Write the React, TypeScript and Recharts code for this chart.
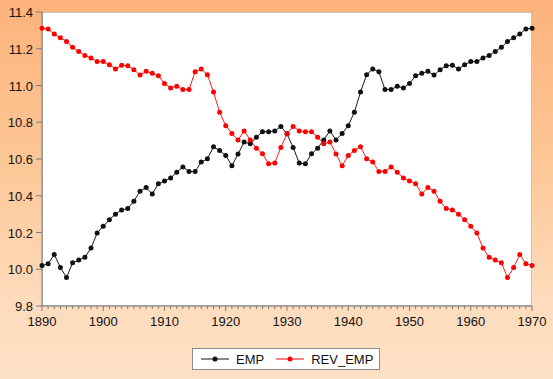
import { LineChart, Line, XAxis, YAxis, ReferenceArea } from 'recharts';

const years: number[] = [
  1890, 1891, 1892, 1893, 1894, 1895, 1896, 1897, 1898, 1899,
  1900, 1901, 1902, 1903, 1904, 1905, 1906, 1907, 1908, 1909,
  1910, 1911, 1912, 1913, 1914, 1915, 1916, 1917, 1918, 1919,
  1920, 1921, 1922, 1923, 1924, 1925, 1926, 1927, 1928, 1929,
  1930, 1931, 1932, 1933, 1934, 1935, 1936, 1937, 1938, 1939,
  1940, 1941, 1942, 1943, 1944, 1945, 1946, 1947, 1948, 1949,
  1950, 1951, 1952, 1953, 1954, 1955, 1956, 1957, 1958, 1959,
  1960, 1961, 1962, 1963, 1964, 1965, 1966, 1967, 1968, 1969,
  1970,
];

const emp: number[] = [
  10.02, 10.03, 10.08, 10.01, 9.955, 10.035, 10.05, 10.065, 10.115, 10.197,
  10.234, 10.27, 10.3, 10.323, 10.33, 10.37, 10.425, 10.445, 10.41, 10.465,
  10.48, 10.497, 10.528, 10.557, 10.532, 10.532, 10.583, 10.601, 10.666, 10.646,
  10.619, 10.563, 10.627, 10.692, 10.683, 10.719, 10.748, 10.748, 10.753, 10.777,
  10.737, 10.663, 10.578, 10.574, 10.628, 10.659, 10.704, 10.752, 10.704, 10.739,
  10.781, 10.855, 10.964, 11.059, 11.09, 11.075, 10.978, 10.978, 10.996, 10.987,
  11.011, 11.053, 11.066, 11.077, 11.057, 11.086, 11.108, 11.11, 11.09, 11.113,
  11.13, 11.13, 11.15, 11.163, 11.185, 11.208, 11.24, 11.26, 11.28, 11.307,
  11.312,
];

const revEmp: number[] = [
  11.312, 11.307, 11.28, 11.26, 11.24, 11.208, 11.185, 11.163, 11.15, 11.13,
  11.13, 11.113, 11.09, 11.11, 11.108, 11.086, 11.057, 11.077, 11.066, 11.053,
  11.011, 10.987, 10.996, 10.978, 10.978, 11.075, 11.09, 11.059, 10.964, 10.855,
  10.781, 10.739, 10.704, 10.752, 10.704, 10.659, 10.628, 10.574, 10.578, 10.663,
  10.737, 10.777, 10.753, 10.748, 10.748, 10.719, 10.683, 10.692, 10.627, 10.563,
  10.619, 10.646, 10.666, 10.601, 10.583, 10.532, 10.532, 10.557, 10.528, 10.497,
  10.48, 10.465, 10.41, 10.445, 10.425, 10.37, 10.33, 10.323, 10.3, 10.27,
  10.234, 10.197, 10.115, 10.065, 10.05, 10.035, 9.955, 10.01, 10.08, 10.03,
  10.02,
];

const yTicks: number[] = [9.8, 10.0, 10.2, 10.4, 10.6, 10.8, 11.0, 11.2, 11.4];

const data = years.map((y, i) => ({ year: y, EMP: emp[i], REV_EMP: revEmp[i] }));

const FONT = '"Liberation Sans", Arial, sans-serif';
const AXIS = '#7a7a7a';

// every year gets a short tick, decades a longer one with a label
function YearTick(props: any) {
  const { x, y, payload } = props;
  const major = payload.value % 10 === 0;
  return (
    <g>
      <line x1={x} x2={x} y1={y} y2={y + (major ? 5 : 3)} stroke={AXIS} strokeWidth={1} />
      {major && (
        <text x={x} y={y + 20} textAnchor="middle" fontSize={13} fontFamily={FONT} fill="#111">
          {payload.value}
        </text>
      )}
    </g>
  );
}

function ValueTick(props: any) {
  const { x, y, payload } = props;
  return (
    <g>
      <line x1={x} x2={x + 6} y1={y} y2={y} stroke={AXIS} strokeWidth={1} />
      <text x={x - 3} y={y + 5} textAnchor="end" fontSize={13} fontFamily={FONT} fill="#111">
        {payload.value.toFixed(1)}
      </text>
    </g>
  );
}

function LegendKey({ color, label }: { color: string; label: string }) {
  return (
    <span style={{ display: 'inline-flex', alignItems: 'center', marginRight: 11 }}>
      <svg width={30} height={10} style={{ marginRight: 6 }}>
        <line x1={1} x2={29} y1={5} y2={5} stroke={color} strokeWidth={1} />
        <circle cx={15} cy={5} r={2.5} fill={color} />
      </svg>
      {label}
    </span>
  );
}

export default function App() {
  return (
    <div
      style={{
        position: 'fixed',
        left: 0,
        top: 0,
        width: 553,
        height: 379,
        background: 'linear-gradient(to bottom, #fcb27b 0%, #fdc898 45%, #fedcbd 80%, #fee0c4 100%)',
        fontFamily: FONT,
      }}
    >
      <LineChart width={553} height={379} data={data} margin={{ top: 12, right: 21, bottom: 43, left: 0 }}>
        <ReferenceArea x1={1890} x2={1970} y1={9.8} y2={11.4} fill="#ffffff" fillOpacity={1} stroke="#8a8a8a" strokeWidth={1} ifOverflow="hidden" />
        <XAxis
          dataKey="year"
          type="number"
          domain={[1890, 1970]}
          ticks={years}
          interval={0}
          tick={<YearTick />}
          tickLine={false}
          tickSize={0}
          tickMargin={0}
          axisLine={{ stroke: AXIS }}
          height={30}
        />
        <YAxis
          type="number"
          domain={[9.8, 11.4]}
          ticks={yTicks}
          interval={0}
          tick={<ValueTick />}
          tickLine={false}
          tickSize={6}
          tickMargin={0}
          axisLine={{ stroke: AXIS }}
          width={42}
        />
        <Line
          dataKey="EMP"
          stroke="#1a1a1a"
          strokeWidth={1}
          dot={{ r: 2.5, fill: '#111', stroke: 'none' }}
          isAnimationActive={false}
        />
        <Line
          dataKey="REV_EMP"
          stroke="#ff1a1a"
          strokeWidth={1}
          dot={{ r: 2.5, fill: '#ff0000', stroke: 'none' }}
          isAnimationActive={false}
        />
      </LineChart>
      <div
        style={{
          position: 'absolute',
          left: 192,
          top: 348,
          width: 188,
          height: 22,
          boxSizing: 'border-box',
          background: '#fff',
          border: '1px solid #8a8a8a',
          display: 'flex',
          alignItems: 'center',
          paddingLeft: 7,
          fontSize: 13,
          color: '#111',
        }}
      >
        <LegendKey color="#111" label="EMP" />
        <LegendKey color="#ff0000" label="REV_EMP" />
      </div>
    </div>
  );
}
